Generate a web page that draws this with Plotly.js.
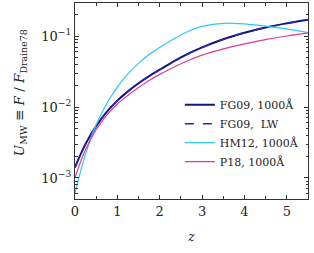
<!DOCTYPE html>
<html><head><meta charset="utf-8">
<script src="https://cdn.plot.ly/plotly-3.0.1.min.js"></script>
<style>html,body{margin:0;padding:0;background:#fff}#plot{width:314px;height:253px}</style>
</head><body><div id="plot"></div>
<script>
const zFG09 = [0, 0.25, 0.5, 0.75, 1, 1.25, 1.5, 1.75, 2, 2.5, 3, 3.5, 4, 4.5, 5, 5.5];
const uFG09 = [0.00141, 0.00302, 0.00537, 0.00851, 0.0123, 0.0166, 0.0216, 0.0272, 0.0335, 0.0501, 0.0692, 0.0902, 0.111, 0.132, 0.151, 0.170];
const zFG09LW = [0, 0.25, 0.5, 0.75, 1, 1.25, 1.5, 1.75, 2, 2.5, 3, 3.5, 4, 4.5, 5, 5.5];
const uFG09LW = [0.00141, 0.00302, 0.00537, 0.00851, 0.0123, 0.0166, 0.0216, 0.0272, 0.0335, 0.0501, 0.0692, 0.0902, 0.111, 0.132, 0.151, 0.170];
const zHM12 = [0, 0.25, 0.5, 0.75, 1, 1.25, 1.5, 1.75, 2, 2.25, 2.5, 2.75, 3, 3.25, 3.5, 3.75, 4, 4.5, 5, 5.5];
const uHM12 = [0.00062, 0.00219, 0.00562, 0.0112, 0.0191, 0.0292, 0.0412, 0.055, 0.0692, 0.0851, 0.1035, 0.1216, 0.1365, 0.146, 0.151, 0.151, 0.148, 0.138, 0.126, 0.112];
const zP18 = [0, 0.25, 0.5, 0.75, 1, 1.25, 1.5, 1.75, 2, 2.5, 3, 3.5, 4, 4.5, 5, 5.5];
const uP18 = [0.00102, 0.00251, 0.00479, 0.00767, 0.011, 0.0146, 0.0188, 0.0237, 0.0288, 0.0407, 0.0537, 0.066, 0.0776, 0.089, 0.100, 0.111];
const names = ["FG09, 1000Å", "FG09,  LW", "HM12, 1000Å", "P18, 1000Å"];
const xTickVals = [0, 1, 2, 3, 4, 5];
const yTickVals = [0.001, 0.01, 0.1];
const yTickText = ["10<sup>−3</sup>", "10<sup>−2</sup>", "10<sup>−1</sup>"];
const xTitle = "<i>z</i>";
const yTitle = "<i>U</i><sub>MW</sub> ≡ <i>F</i> / <i>F</i><sub>Draine78</sub>";

const serif = "DejaVu Serif";
const minorY = [];
for (let e = -4; e <= 0; e++) for (let m = 2; m <= 9; m++) minorY.push(m * Math.pow(10, e));

const traces = [
  {x: zFG09, y: uFG09, name: names[0], mode: "lines", line: {color: "#14147a", width: 2, shape: "spline"}},
  {x: zFG09LW, y: uFG09LW, name: names[1], mode: "lines", line: {color: "#2a2aa8", width: 1.5, dash: "dash", shape: "spline"}},
  {x: zHM12, y: uHM12, name: names[2], mode: "lines", line: {color: "#2dc8f8", width: 1.2, shape: "spline"}},
  {x: zP18, y: uP18, name: names[3], mode: "lines", line: {color: "#e03a9e", width: 1.2, shape: "spline"}}
];
const axisCommon = {showgrid: false, zeroline: false, showline: true, linecolor: "#333", linewidth: 1.2, mirror: "ticks", ticks: "inside", ticklen: 4, tickcolor: "#333", tickfont: {family: serif, size: 13, color: "#222"}};
const layout = {
  width: 314, height: 253,
  margin: {l: 75, r: 6, t: 3, b: 54},
  paper_bgcolor: "#fff", plot_bgcolor: "#fff",
  font: {family: serif},
  showlegend: true,
  legend: {x: 0.45, y: 0.555, xanchor: "left", yanchor: "top", bgcolor: "rgba(0,0,0,0)", font: {family: serif, size: 11, color: "#222"}, tracegroupgap: 0},
  xaxis: Object.assign({}, axisCommon, {range: [0, 5.5], tickmode: "array", tickvals: xTickVals,
    minor: {tickmode: "linear", tick0: 0, dtick: 0.5, ticks: "inside", ticklen: 3, tickcolor: "#333"},
    title: {text: xTitle, font: {family: serif, size: 13, color: "#222"}, standoff: 14}}),
  yaxis: Object.assign({}, axisCommon, {type: "log", range: [-3.296, -0.535], tickmode: "array", tickvals: yTickVals, ticktext: yTickText,
    minor: {tickmode: "array", tickvals: minorY, ticks: "inside", ticklen: 2.5, tickcolor: "#333"}}),
  annotations: [{text: yTitle, xref: "paper", yref: "paper", x: -0.236, y: 0.54, xanchor: "center", yanchor: "middle", textangle: -90, showarrow: false, font: {family: serif, size: 13.5, color: "#222"}}]
};
Plotly.newPlot("plot", traces, layout, {displayModeBar: false, staticPlot: true});
</script></body></html>
